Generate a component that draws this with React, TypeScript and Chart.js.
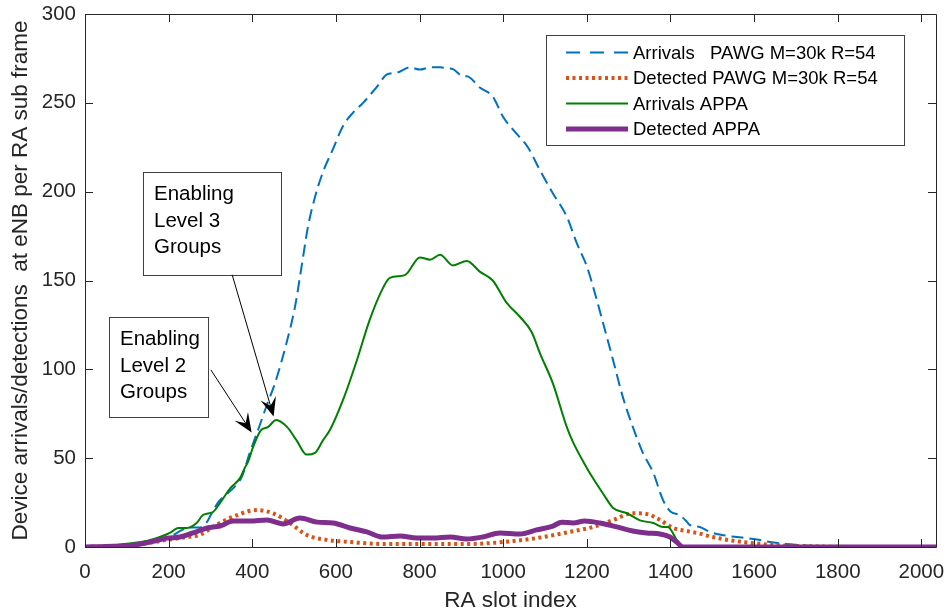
import React, { useEffect, useRef } from 'react';
import { Chart, registerables } from 'chart.js';

Chart.register(...registerables);

// ---------- data ----------
const xTickValues = [0, 200, 400, 600, 800, 1000, 1200, 1400, 1600, 1800, 2000];
const yTickValues = [0, 50, 100, 150, 200, 250, 300];

const arrivalsPawgX = [0, 50, 100, 150, 200, 220, 240, 260, 275, 290, 303, 318, 335, 358, 375, 394, 414, 435, 454, 482, 502, 518, 533, 550, 569, 593, 617, 641, 665, 698, 722, 746, 777, 801, 825, 849, 865, 880, 904, 913, 944, 975, 1000, 1023, 1059, 1088, 1119, 1152, 1176, 1200, 1215, 1239, 1263, 1286, 1310, 1334, 1359, 1382, 1400, 1422, 1440, 1446, 1470, 1494, 1523, 1559, 1583, 1614, 1638, 1678, 1709, 1750, 1800, 2035];
const arrivalsPawgY = [0, 0.5, 1.5, 3, 5.5, 8, 10.5, 11, 11, 13.5, 19, 25, 29, 34, 39.5, 53, 66, 80, 92, 115, 135, 158, 180, 197, 211, 224, 237, 244.5, 250, 259, 266, 267, 270, 268.7, 270, 270, 269.5, 269, 265, 265, 258.6, 253.5, 242, 235, 225, 212, 199, 186, 171, 158, 146.5, 126, 105, 84.5, 67.6, 53, 41.7, 26.5, 20, 18, 14, 12.4, 11.3, 8.5, 6.8, 5.6, 5, 4, 2.8, 1.7, 1.1, 0.3, 0, 0];

const detectedPawgX = [0, 50, 115, 196, 240, 275, 306, 354, 411, 449, 490, 530, 578, 634, 712, 832, 920, 1000, 1080, 1159, 1215, 1263, 1310, 1343, 1375, 1406, 1439, 1470, 1501, 1573, 1654, 1750, 1850, 2035];
const detectedPawgY = [0, 0.3, 1, 4, 5.5, 6.8, 11.3, 17, 20.8, 19, 13.5, 6.8, 4, 2.8, 1.7, 1.7, 1.7, 2.8, 5, 8.5, 11.3, 15.2, 19, 18.6, 15.2, 10.7, 9, 7.5, 5.6, 2.8, 1.1, 0.3, 0, 0];

const arrivalsAppaX = [0, 50, 100, 150, 179, 203, 223, 243, 267, 282, 306, 323, 347, 371, 382, 390, 402, 420, 438, 457, 483, 506, 530, 550, 569, 586, 617, 650, 681, 713, 729, 765, 801, 825, 849, 880, 913, 944, 975, 1008, 1040, 1068, 1088, 1119, 1152, 1167, 1200, 1207, 1239, 1263, 1296, 1327, 1359, 1382, 1394, 1415, 1430, 2035];
const arrivalsAppaY = [0, 0.5, 1.8, 3.5, 5.6, 7.9, 10.7, 10.7, 13.5, 18, 19.7, 24.8, 33, 38.9, 44.5, 48, 56.3, 65.5, 67.6, 71.5, 67.6, 60, 52, 53, 60, 66, 82.8, 105, 128, 146, 151.5, 153, 163, 161.7, 164.5, 158.5, 161, 155, 150, 137.5, 129.6, 121, 109, 92, 67.6, 59, 44.5, 41.7, 30, 22, 19, 15, 13.5, 11.3, 11.3, 4, 0, 0];

const detectedAppaX = [0, 50, 115, 160, 196, 227, 258, 292, 323, 354, 394, 435, 473, 514, 555, 593, 634, 674, 712, 753, 794, 832, 873, 913, 951, 992, 1040, 1080, 1119, 1140, 1167, 1195, 1231, 1272, 1310, 1343, 1375, 1399, 1415, 1430, 2035];
const detectedAppaY = [0, 0.3, 1, 3, 5, 5.6, 7.9, 10.7, 11.8, 14.6, 14.6, 15.2, 13, 16.3, 14, 13.5, 10.7, 8.5, 5.6, 6.2, 5, 5, 5.6, 4.5, 5.6, 7.9, 7.3, 9.6, 11.8, 14, 13.5, 14.6, 13.5, 11.3, 9, 7.9, 7.3, 5.6, 2.8, 0, 0];

const seriesLabels = [
  'Arrivals   PAWG M=30k R=54',
  'Detected PAWG M=30k R=54',
  'Arrivals APPA',
  'Detected APPA',
];

const pts = (xs: number[], ys: number[]) => xs.map((x, i) => ({ x, y: ys[i] }));

const FONT = '"Liberation Sans", Arial, Helvetica, sans-serif';
const AXIS_COLOR = '#262626';

const styles = [
  { color: '#0072BD', width: 2, dash: [12, 6] },
  { color: '#D95319', width: 4, dash: [3, 3.5] },
  { color: '#008000', width: 2, dash: [] as number[] },
  { color: '#7E2F8E', width: 5, dash: [] as number[] },
];

// annotation boxes (data coordinates)
const annotations = [
  { box: [138.6, 211.3, 468.5, 153.2], lines: ['Enabling', 'Level 3', 'Groups'], from: [352, 153.2], to: [451, 73.5] },
  { box: [57.4, 129.6, 294, 73.2], lines: ['Enabling', 'Level 2', 'Groups'], from: [301, 99.7], to: [398.5, 64.5] },
];

const decorPlugin = {
  id: 'decor',
  afterDraw(chart: any) {
    const { ctx, chartArea, scales } = chart;
    const { left, right, top, bottom } = chartArea;
    const xs = scales.x;
    const ys = scales.y;
    ctx.save();

    // frame + inward ticks
    ctx.strokeStyle = AXIS_COLOR;
    ctx.lineWidth = 1;
    ctx.beginPath();
    ctx.rect(Math.round(left) + 0.5, Math.round(top) + 0.5, Math.round(right - left), Math.round(bottom - top));
    const tl = 8;
    xTickValues.forEach((v) => {
      const px = Math.round(xs.getPixelForValue(v)) + 0.5;
      ctx.moveTo(px, bottom);
      ctx.lineTo(px, bottom - tl);
      ctx.moveTo(px, top);
      ctx.lineTo(px, top + tl);
    });
    yTickValues.forEach((v) => {
      const py = Math.round(ys.getPixelForValue(v)) + 0.5;
      ctx.moveTo(left, py);
      ctx.lineTo(left + tl, py);
      ctx.moveTo(right, py);
      ctx.lineTo(right - tl, py);
    });
    ctx.stroke();

    // legend
    const lx0 = 546, ly0 = 35, lw = 358, lh = 110;
    ctx.fillStyle = '#ffffff';
    ctx.fillRect(lx0, ly0, lw, lh);
    ctx.strokeStyle = '#404040';
    ctx.lineWidth = 1;
    ctx.strokeRect(lx0 + 0.5, ly0 + 0.5, lw, lh);
    ctx.font = `18.5px ${FONT}`;
    ctx.textBaseline = 'middle';
    ctx.textAlign = 'left';
    seriesLabels.forEach((label, i) => {
      const cy = 52.5 + i * 25.5;
      const st = styles[i];
      ctx.beginPath();
      ctx.strokeStyle = st.color;
      ctx.lineWidth = st.width;
      ctx.setLineDash(i === 0 ? [14, 10] : st.dash);
      ctx.moveTo(566, cy);
      ctx.lineTo(628, cy);
      ctx.stroke();
      ctx.setLineDash([]);
      ctx.fillStyle = '#000000';
      ctx.fillText(label, 633, cy + 1);
    });

    // annotations
    annotations.forEach((a) => {
      const bx0 = Math.round(xs.getPixelForValue(a.box[0]));
      const by0 = Math.round(ys.getPixelForValue(a.box[1]));
      const bx1 = Math.round(xs.getPixelForValue(a.box[2]));
      const by1 = Math.round(ys.getPixelForValue(a.box[3]));
      ctx.strokeStyle = '#404040';
      ctx.lineWidth = 1;
      ctx.strokeRect(bx0 + 0.5, by0 + 0.5, bx1 - bx0, by1 - by0);
      ctx.fillStyle = '#000000';
      ctx.font = `20.5px ${FONT}`;
      ctx.textBaseline = 'alphabetic';
      a.lines.forEach((t, i) => ctx.fillText(t, bx0 + 11, by0 + 28 + i * 26.7));

      const x1 = xs.getPixelForValue(a.from[0]);
      const y1 = ys.getPixelForValue(a.from[1]);
      const x2 = xs.getPixelForValue(a.to[0]);
      const y2 = ys.getPixelForValue(a.to[1]);
      const ang = Math.atan2(y2 - y1, x2 - x1);
      const L = 19, W = 8, notch = 11;
      const cx = Math.cos(ang), sy = Math.sin(ang);
      ctx.strokeStyle = '#000000';
      ctx.lineWidth = 1;
      ctx.beginPath();
      ctx.moveTo(x1, y1);
      ctx.lineTo(x2 - cx * notch, y2 - sy * notch);
      ctx.stroke();
      ctx.fillStyle = '#000000';
      ctx.beginPath();
      ctx.moveTo(x2, y2);
      ctx.lineTo(x2 - cx * L - sy * W, y2 - sy * L + cx * W);
      ctx.lineTo(x2 - cx * notch, y2 - sy * notch);
      ctx.lineTo(x2 - cx * L + sy * W, y2 - sy * L - cx * W);
      ctx.closePath();
      ctx.fill();
    });

    ctx.restore();
  },
};

export default function App() {
  const canvasRef = useRef<HTMLCanvasElement | null>(null);

  useEffect(() => {
    document.body.style.margin = '0';
    const canvas = canvasRef.current;
    if (!canvas) return;
    const seriesX = [arrivalsPawgX, detectedPawgX, arrivalsAppaX, detectedAppaX];
    const seriesY = [arrivalsPawgY, detectedPawgY, arrivalsAppaY, detectedAppaY];
    const drawOrder = [3, 2, 1, 0];
    const chart = new Chart(canvas, {
      type: 'line',
      data: {
        datasets: seriesLabels.map((label, i) => ({
          label,
          data: pts(seriesX[i], seriesY[i]),
          borderColor: styles[i].color,
          backgroundColor: styles[i].color,
          borderWidth: styles[i].width,
          borderDash: styles[i].dash,
          pointRadius: 0,
          fill: false,
          cubicInterpolationMode: 'monotone' as const,
          order: drawOrder[i],
        })),
      },
      options: {
        responsive: false,
        animation: false,
        devicePixelRatio: 1,
        layout: { padding: { top: 14, right: 11, left: 0, bottom: 0 } },
        plugins: { legend: { display: false }, tooltip: { enabled: false } },
        scales: {
          x: {
            type: 'linear',
            min: 0,
            max: 2035,
            afterBuildTicks: (s: any) => {
              s.ticks = xTickValues.map((value) => ({ value }));
            },
            afterFit: (s: any) => {
              s.height = 66;
              s.paddingLeft = 0;
              s.paddingRight = 0;
            },
            grid: { display: false, drawTicks: false },
            border: { display: false },
            ticks: {
              padding: 13,
              maxRotation: 0,
              autoSkip: false,
              color: AXIS_COLOR,
              font: { family: FONT, size: 20.5 },
              callback: (v: any) => String(v),
            },
            title: {
              display: true,
              text: 'RA slot index',
              color: AXIS_COLOR,
              font: { family: FONT, size: 22.5 },
              padding: { top: 0, bottom: -1 },
            },
          },
          y: {
            type: 'linear',
            min: 0,
            max: 300,
            afterBuildTicks: (s: any) => {
              s.ticks = yTickValues.map((value) => ({ value }));
            },
            afterFit: (s: any) => {
              s.width = 85;
              s.paddingTop = 0;
              s.paddingBottom = 0;
            },
            grid: { display: false, drawTicks: false },
            border: { display: false },
            ticks: {
              padding: 9,
              color: AXIS_COLOR,
              font: { family: FONT, size: 20.5 },
              callback: (v: any) => String(v),
            },
            title: {
              display: true,
              text: 'Device arrivals/detections  at eNB per RA sub frame',
              color: AXIS_COLOR,
              font: { family: FONT, size: 22.5 },
              padding: { top: 7, bottom: 0 },
            },
          },
        },
      },
      plugins: [decorPlugin],
    });
    return () => chart.destroy();
  }, []);

  return <canvas ref={canvasRef} width={947} height={613} style={{ display: 'block' }} />;
}
